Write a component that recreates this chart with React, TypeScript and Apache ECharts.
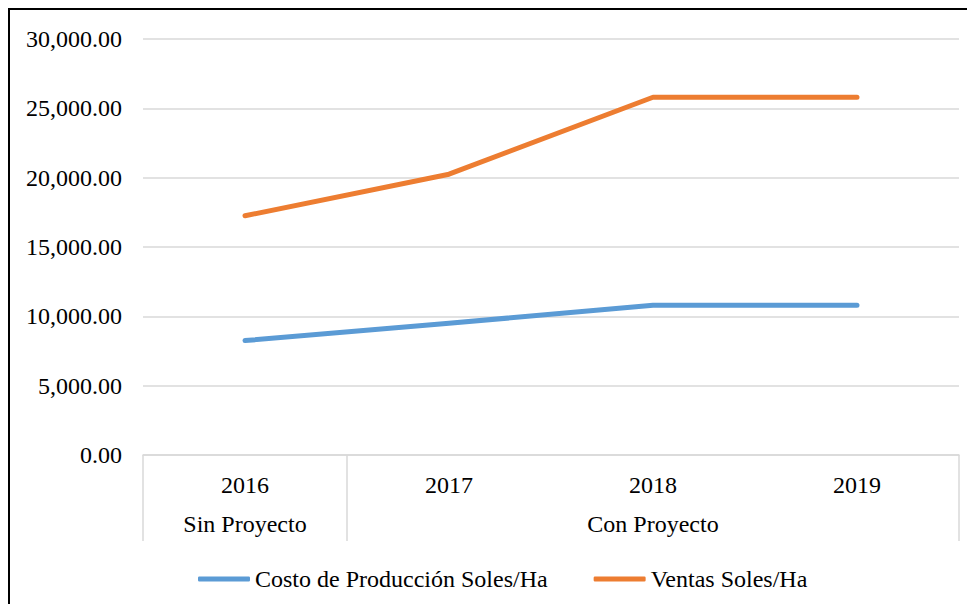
import React, { useEffect, useRef } from "react";
import * as echarts from "echarts";

const years = ["2016", "2017", "2018", "2019"];
const costo = [8250, 9500, 10800, 10800];
const ventas = [17250, 20250, 25800, 25800];
const groupNames = ["Sin Proyecto", "Con Proyecto"];
const groupRanges = [
  [0, 0],
  [1, 3],
];
const seriesNames = ["Costo de Producción Soles/Ha", "Ventas Soles/Ha"];

const FONT = "Liberation Serif";
const FS = 24;

export default function App() {
  const ref = useRef<HTMLDivElement>(null);
  useEffect(() => {
    if (!ref.current) return;
    const chart = echarts.init(ref.current, undefined, { renderer: "svg" });
    chart.setOption({
      animation: false,
      textStyle: { fontFamily: FONT },
      grid: { left: 133, top: 29, right: 16, bottom: 149, containLabel: false },
      xAxis: {
        type: "category",
        data: years,
        boundaryGap: true,
        axisLine: { show: true, lineStyle: { color: "#d9d9d9", width: 1.5 } },
        axisTick: { show: false },
        axisLabel: { margin: 18, fontSize: FS, color: "#000", fontFamily: FONT },
      },
      yAxis: {
        type: "value",
        min: 0,
        max: 30000,
        interval: 5000,
        axisLine: { show: false },
        axisTick: { show: false },
        axisLabel: {
          margin: 21,
          fontSize: FS,
          color: "#000",
          fontFamily: FONT,
          formatter: (v: number) =>
            v.toLocaleString("en-US", { minimumFractionDigits: 2, maximumFractionDigits: 2 }),
        },
        splitLine: { lineStyle: { color: "#d9d9d9", width: 1.5 } },
      },
      legend: {
        data: seriesNames,
        left: 183,
        top: 552,
        icon: "roundRect",
        itemWidth: 52,
        itemHeight: 5,
        itemGap: 46,
        textStyle: { fontSize: FS, color: "#000", fontFamily: FONT },
      },
      series: [
        {
          name: seriesNames[0],
          type: "line",
          data: costo,
          symbol: "none",
          color: "#5B9BD5",
          lineStyle: { width: 5, color: "#5B9BD5", cap: "round", join: "round" },
        },
        {
          name: seriesNames[1],
          type: "line",
          data: ventas,
          symbol: "none",
          color: "#ED7D31",
          lineStyle: { width: 5, color: "#ED7D31", cap: "round", join: "round" },
        },
        {
          type: "custom",
          name: "groups",
          clip: false,
          silent: true,
          data: groupRanges,
          renderItem: (params: any, api: any) => {
            const s = api.value(0);
            const e = api.value(1);
            const band = api.size([1, 0])[0];
            const p0 = api.coord([s, 0]);
            const p1 = api.coord([e, 0]);
            const x0 = p0[0] - band / 2;
            const x1 = p1[0] + band / 2;
            const y0 = p0[1];
            const children: any[] = [
              {
                type: "text",
                style: {
                  text: groupNames[params.dataIndex],
                  x: (x0 + x1) / 2,
                  y: y0 + 69,
                  align: "center",
                  verticalAlign: "middle",
                  fontSize: FS,
                  fontFamily: FONT,
                  fill: "#000",
                },
              },
              {
                type: "line",
                shape: { x1: x0, y1: y0, x2: x0, y2: y0 + 86 },
                style: { stroke: "#d9d9d9", lineWidth: 1.5 },
              },
            ];
            if (params.dataIndex === groupRanges.length - 1) {
              children.push({
                type: "line",
                shape: { x1: x1, y1: y0, x2: x1, y2: y0 + 86 },
                style: { stroke: "#d9d9d9", lineWidth: 1.5 },
              });
            }
            return { type: "group", children };
          },
        },
      ],
    });
    return () => chart.dispose();
  }, []);
  return (
    <div
      style={{
        width: 967,
        height: 596,
        borderTop: "2px solid #000",
        borderLeft: "2px solid #000",
        boxSizing: "border-box",
      }}
    >
      <div ref={ref} style={{ width: "100%", height: "100%" }} />
    </div>
  );
}
